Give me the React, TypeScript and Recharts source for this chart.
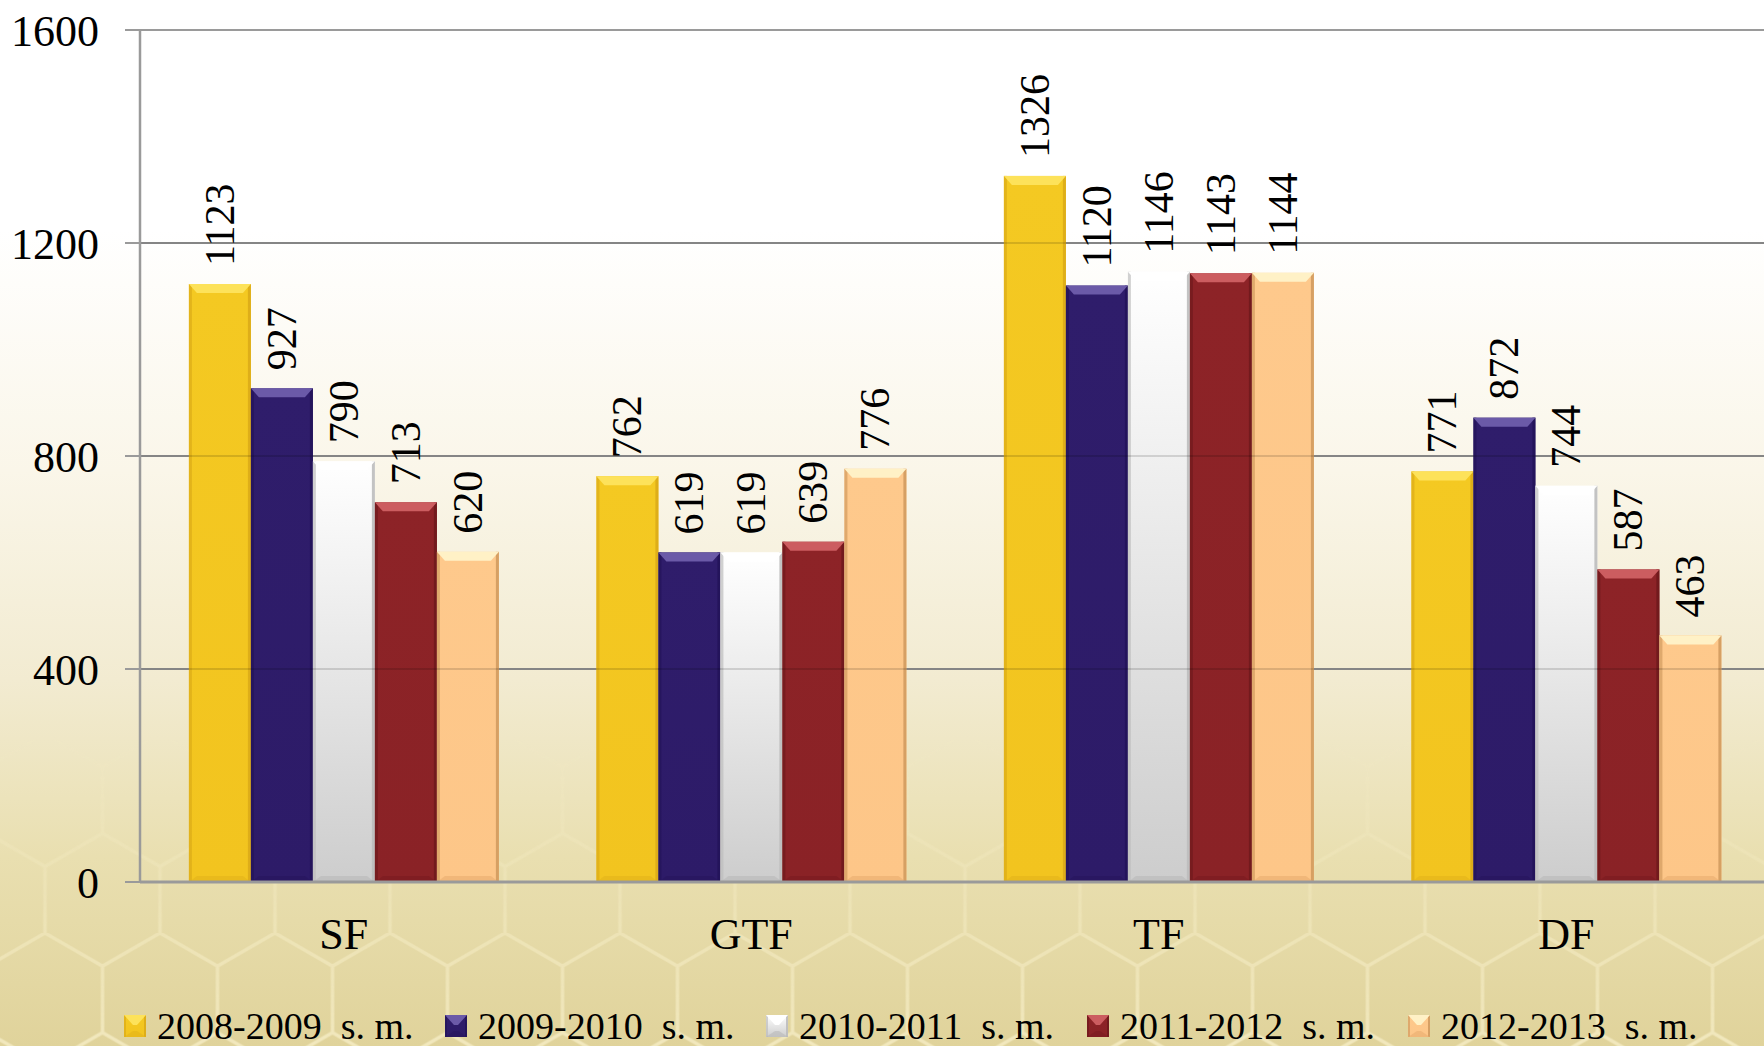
import { BarChart, Bar, XAxis, YAxis, CartesianGrid, Legend, LabelList, ReferenceLine } from 'recharts'

const categories = ['SF', 'GTF', 'TF', 'DF']
const seriesNames = ['2008-2009  s. m.', '2009-2010  s. m.', '2010-2011  s. m.', '2011-2012  s. m.', '2012-2013  s. m.']
const s20082009 = [1123, 762, 1326, 771]
const s20092010 = [927, 619, 1120, 872]
const s20102011 = [790, 619, 1146, 744]
const s20112012 = [713, 639, 1143, 587]
const s20122013 = [620, 776, 1144, 463]
const yTicks = [0, 400, 800, 1200, 1600]
const boundaryTicks = [0, 1, 2, 3, 4]

const seriesValues = [s20082009, s20092010, s20102011, s20112012, s20122013]
const keys = ['a', 'b', 'c', 'd', 'e']

const data = categories.map((name, i) => {
  const row: any = { name }
  keys.forEach((k, j) => (row[k] = seriesValues[j][i]))
  return row
})

const palette = [
  { base: '#f4c922', base2: '#f2c41f', top: '#fde25a', bottom: '#e3b41a', side: '#dcab18' },
  { base: '#2f1d6b', base2: '#2d1b68', top: '#6b5aa8', bottom: '#27165e', side: '#23145a' },
  { base: '#ffffff', base2: '#cdcdcd', top: '#ffffff', bottom: '#b9b9b9', side: '#bdbdbd' },
  { base: '#8d2327', base2: '#8a2226', top: '#cc5d60', bottom: '#7a1b1f', side: '#6f1a1d' },
  { base: '#fec98c', base2: '#fdc688', top: '#fff1c6', bottom: '#e9ae70', side: '#d19b5f' },
]

const font = "'Liberation Serif', 'Times New Roman', serif"

const bevel = (c: any, x: number, y: number, w: number, h: number, id: string, t = 9, b = 8, s = 3) => {
  const tt = Math.min(t, h / 2)
  const bb = Math.min(6, h / 2)
  return (
    <g>
      <defs>
        <linearGradient id={id} x1='0' y1='0' x2='0' y2='1'>
          <stop offset='0%' stopColor={c.base} />
          <stop offset='100%' stopColor={c.base2} />
        </linearGradient>
      </defs>
      <rect x={x} y={y} width={w} height={h} fill={`url(#${id})`} />
      <rect x={x} y={y} width={s} height={h} fill={c.side} opacity={0.7} />
      <rect x={x + w - s} y={y} width={s} height={h} fill={c.side} opacity={0.9} />
      <polygon points={`${x},${y} ${x + w},${y} ${x + w - b},${y + tt} ${x + b},${y + tt}`} fill={c.top} />
      <polygon points={`${x},${y + h} ${x + w},${y + h} ${x + w - b},${y + h - bb} ${x + b},${y + h - bb}`} fill={c.bottom} opacity={0.6} />
    </g>
  )
}

const makeShape = (idx: number) => (props: any) => {
  const { x, y, width, height, index } = props
  if (!height || height <= 0) return <g />
  return bevel(palette[idx], x, y, width, height, `g${idx}-${index}`)
}

const makeLabel = (props: any) => {
  const { x, y, width, value } = props
  const cx = Number(x) + Number(width) / 2
  return (
    <text
      transform={`translate(${cx},${Number(y) - 18}) rotate(-90)`}
      textAnchor='start'
      dominantBaseline='central'
      fontSize={42}
      fontFamily={font}
      fill='#000'
    >
      {value}
    </text>
  )
}

const CategoryTick = (props: any) => {
  const { x, y, payload } = props
  return (
    <text x={x} y={y + 52} textAnchor='middle' dominantBaseline='central' fontSize={44} fontFamily={font} fill='#000'>
      {payload.value}
    </text>
  )
}

const EmptyTick = () => <g />

const LegendContent = () => (
  <div style={{ display: 'flex', paddingLeft: 124, height: 44, alignItems: 'center' }}>
    {seriesNames.map((n, i) => (
      <div key={n} style={{ width: 321, display: 'flex', alignItems: 'center' }}>
        <svg width={22} height={22} style={{ marginRight: 11 }}>
          {bevel(palette[i], 0, 0, 22, 22, `lg${i}`, 10, 9, 2)}
        </svg>
        <span style={{ fontFamily: font, fontSize: 38, whiteSpace: 'pre', color: '#000', lineHeight: '44px' }}>{n}</span>
      </div>
    ))}
  </div>
)

const Background = () => {
  const s = 66.4
  const w = 115
  const hexPath = `M${w / 2} 0 L${w} ${s / 2} L${w} ${1.5 * s} L${w / 2} ${2 * s} L0 ${1.5 * s} L0 ${s / 2} Z M${w / 2} ${2 * s} L${w / 2} ${3 * s}`
  return (
    <svg width={1764} height={1046} style={{ position: 'absolute', left: 0, top: 0 }}>
      <defs>
        <linearGradient id='bg' x1='0' y1='0' x2='0' y2='1'>
          <stop offset='0%' stopColor='#ffffff' />
          <stop offset='22%' stopColor='#ffffff' />
          <stop offset='45%' stopColor='#faf6e9' />
          <stop offset='65%' stopColor='#f2ebd1' />
          <stop offset='82%' stopColor='#e9dfb0' />
          <stop offset='100%' stopColor='#e0d39b' />
        </linearGradient>
        <pattern id='hex' width={w} height={3 * s} patternUnits='userSpaceOnUse' x={102.5} y={136.2}>
          <path d={hexPath} fill='none' stroke='#f7efc9' strokeWidth={3.5} />
        </pattern>
        <linearGradient id='fade' x1='0' y1='0' x2='0' y2='1'>
          <stop offset='0%' stopColor='#000' />
          <stop offset='70%' stopColor='#000' />
          <stop offset='85%' stopColor='#666' />
          <stop offset='100%' stopColor='#eee' />
        </linearGradient>
        <mask id='hexMask'>
          <rect width={1764} height={1046} fill='url(#fade)' />
        </mask>
      </defs>
      <rect width={1764} height={1046} fill='url(#bg)' />
      <rect width={1764} height={1046} fill='url(#hex)' mask='url(#hexMask)' opacity={0.8} />
    </svg>
  )
}

export default function App() {
  return (
    <div style={{ position: 'fixed', left: 0, top: 0, width: 1764, height: 1046, overflow: 'hidden' }}>
      <Background />
      <div style={{ position: 'absolute', left: 0, top: 0 }}>
        <BarChart width={1772} height={1046} data={data} margin={{ top: 30, right: 2, bottom: 0, left: 0 }} barCategoryGap='12%' barGap={0}>
          <CartesianGrid xAxisId='cat' horizontal vertical={false} stroke='#9a9a9a' strokeWidth={2} />
          <XAxis
            xAxisId='bound'
            type='number'
            domain={[0, 4]}
            ticks={boundaryTicks}
            height={0}
            axisLine={false}
            tick={EmptyTick}
            tickSize={15}
            tickLine={{ stroke: '#9a9a9a', strokeWidth: 2 }}
          />
          <XAxis
            xAxisId='cat'
            dataKey='name'
            height={120}
            tickLine={false}
            tickSize={0}
            tickMargin={0}
            axisLine={{ stroke: '#9a9a9a', strokeWidth: 3 }}
            tick={CategoryTick}
          />
          <YAxis
            width={140}
            domain={[0, 1600]}
            ticks={yTicks}
            tickSize={15}
            tickMargin={26}
            axisLine={{ stroke: '#9a9a9a', strokeWidth: 2.5 }}
            tickLine={{ stroke: '#9a9a9a', strokeWidth: 2 }}
            tick={{ fontSize: 44, fontFamily: font, fill: '#000' }}
          />
          <Legend
            verticalAlign='bottom'
            content={LegendContent}
            wrapperStyle={{ position: 'absolute', left: 0, top: 1004, width: 1764, height: 44 }}
          />
          {keys.map((k, i) => (
            <Bar key={k} xAxisId='cat' dataKey={k} name={seriesNames[i]} fill={palette[i].base} shape={makeShape(i)} isAnimationActive={false}>
              <LabelList dataKey={k} content={makeLabel} />
            </Bar>
          ))}
          {[400, 800, 1200].map((v) => (
            <ReferenceLine key={v} xAxisId='cat' y={v} stroke='#000' strokeOpacity={0.18} strokeWidth={1.5} />
          ))}
        </BarChart>
      </div>
    </div>
  )
}
